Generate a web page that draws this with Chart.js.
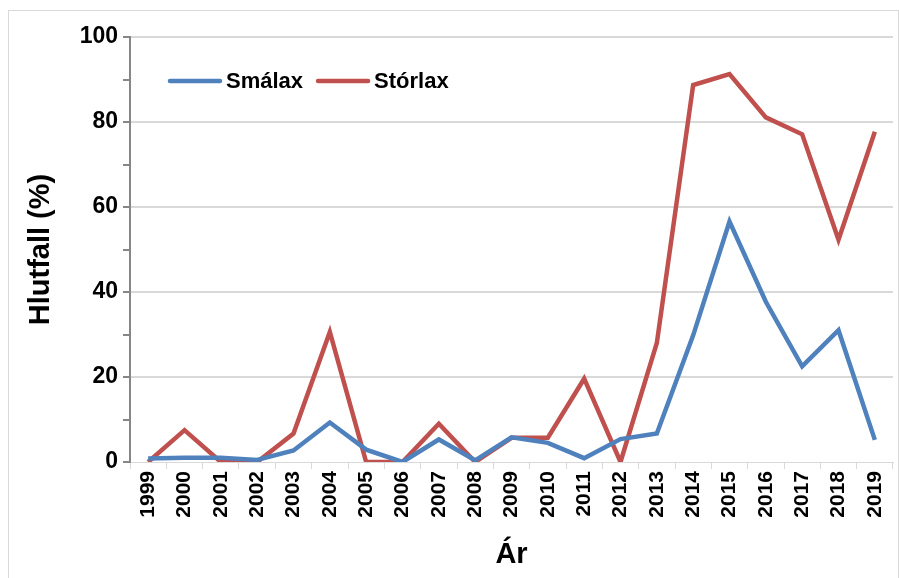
<!DOCTYPE html>
<html>
<head>
<meta charset="utf-8">
<script src="https://cdn.jsdelivr.net/npm/chart.js@4/dist/chart.umd.min.js"></script>
<style>
  html, body { margin: 0; padding: 0; background: #fff; }
  #wrap { width: 899px; height: 578px; position: relative; }
</style>
</head>
<body>
<div id="wrap"><canvas id="chart" width="899" height="578"></canvas></div>
<script>
const years = ['1999','2000','2001','2002','2003','2004','2005','2006','2007','2008','2009',
               '2010','2011','2012','2013','2014','2015','2016','2017','2018','2019'];
const smalax = [0.8, 1.0, 1.0, 0.5, 2.7, 9.3, 2.9, 0.0, 5.3, 0.4, 5.8,
                4.5, 0.9, 5.4, 6.7, 29.8, 56.6, 37.7, 22.5, 31.0, 5.2];
const storlax = [0.0, 7.5, 0.0, 0.0, 6.7, 30.6, 0.0, 0.0, 9.0, 0.0, 5.7,
                 5.7, 19.6, 0.0, 28.0, 88.7, 91.3, 81.1, 77.1, 52.3, 77.7];
const yTicks = [0, 20, 40, 60, 80, 100];

const font = "'Liberation Sans', Arial, sans-serif";

// frame around the whole chart plus legend drawn inside the plot area
const framePlugin = {
    id: 'frame',
    beforeDraw(chart) {
        const c = chart.ctx;
        c.save();
        c.fillStyle = '#fff';
        c.fillRect(0, 0, chart.width, chart.height);
        c.strokeStyle = '#d9d9d9';
        c.lineWidth = 1;
        c.strokeRect(8.5, 10.5, chart.width - 9, chart.height - 10);
        c.restore();
    },
    afterDraw(chart) {
        const c = chart.ctx;
        const area = chart.chartArea;
        const y = area.top + 44;
        let x = area.left + 40;
        c.save();
        c.font = 'bold 22px ' + font;
        c.textBaseline = 'middle';
        chart.data.datasets.forEach(ds => {
            c.strokeStyle = ds.borderColor;
            c.lineWidth = 4.5;
            c.lineCap = 'round';
            c.beginPath();
            c.moveTo(x, y);
            c.lineTo(x + 50, y);
            c.stroke();
            c.fillStyle = '#000';
            c.fillText(ds.label, x + 56, y + 1);
            x += 56 + c.measureText(ds.label).width + 15;
        });
        c.restore();
    }
};

new Chart(document.getElementById('chart'), {
    type: 'line',
    data: {
        labels: years,
        datasets: [{
            label: 'Smálax',
            data: smalax,
            borderColor: '#4f81bd',
            backgroundColor: '#4f81bd',
            borderWidth: 4.5,
            pointRadius: 0,
            tension: 0
        }, {
            label: 'Stórlax',
            data: storlax,
            borderColor: '#c0504d',
            backgroundColor: '#c0504d',
            borderWidth: 4.5,
            pointRadius: 0,
            tension: 0
        }]
    },
    options: {
        responsive: false,
        animation: false,
        layout: { padding: { left: 24, top: 37, right: 6, bottom: 6 } },
        plugins: {
            legend: { display: false },
            tooltip: { enabled: false }
        },
        scales: {
            x: {
                type: 'category',
                offset: true,
                grid: {
                    offset: true,
                    drawOnChartArea: false,
                    drawTicks: true,
                    tickLength: 7,
                    color: '#d9d9d9'
                },
                border: { color: '#d9d9d9', width: 1 },
                ticks: {
                    color: '#000',
                    font: { family: font, weight: 'bold', size: 21 },
                    maxRotation: 90,
                    minRotation: 90,
                    padding: 2,
                    autoSkip: false
                },
                title: {
                    display: true,
                    text: 'Ár',
                    color: '#000',
                    font: { family: font, weight: 'bold', size: 29 },
                    padding: { top: 2, bottom: 0 }
                },
                afterFit(scale) {
                    scale.height = 110;
                    scale.paddingLeft = 0;
                    scale.paddingRight = 0;
                }
            },
            y: {
                min: 0,
                max: 100,
                ticks: {
                    stepSize: 10,
                    color: '#000',
                    font: { family: font, weight: 'bold', size: 23 },
                    padding: 5,
                    callback: v => yTicks.includes(v) ? String(v) : ''
                },
                grid: {
                    color: ctx => (ctx.tick && ctx.tick.value % 20 === 0 && ctx.tick.value !== 0) ? '#d9d9d9' : 'rgba(0,0,0,0)',
                    tickColor: '#868686',
                    tickLength: 7,
                    lineWidth: 2
                },
                border: { color: '#868686', width: 2 },
                title: {
                    display: true,
                    text: 'Hlutfall (%)',
                    color: '#000',
                    font: { family: font, weight: 'bold', size: 29 },
                    padding: { top: 0, bottom: 0 }
                },
                afterFit(scale) { scale.width = 106; }
            }
        }
    },
    plugins: [framePlugin]
});
</script>
</body>
</html>
